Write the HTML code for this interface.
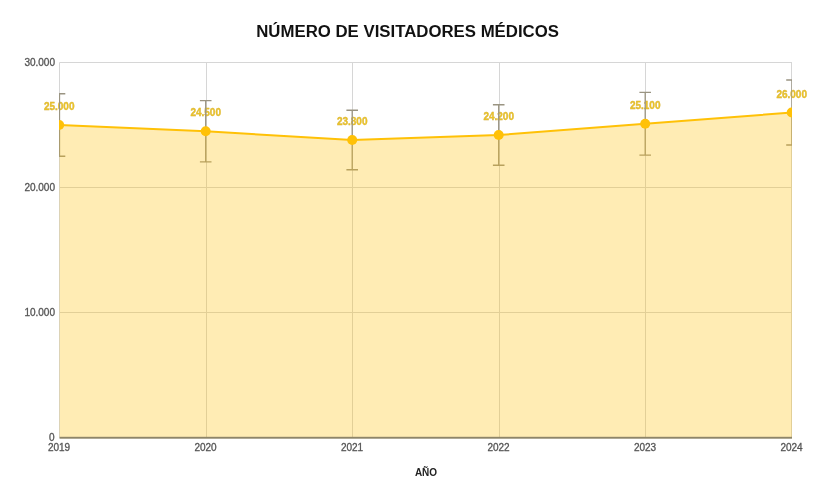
<!DOCTYPE html>
<html><head><meta charset="utf-8"><style>html,body{margin:0;padding:0;background:#fff;width:814px;height:500px;overflow:hidden}svg{display:block;will-change:transform}</style></head>
<body><svg width="814" height="500" viewBox="0 0 814 500" font-family="'Liberation Sans', sans-serif">
<defs><clipPath id="c"><rect x="59" y="61" width="733" height="379"/></clipPath></defs>
<rect width="814" height="500" fill="#fff"/>
<g clip-path="url(#c)">
<line x1="59.5" y1="62.5" x2="792" y2="62.5" stroke="#D6D6D6" stroke-width="1"/>
<line x1="59.5" y1="187.5" x2="792" y2="187.5" stroke="#D6D6D6" stroke-width="1"/>
<line x1="59.5" y1="312.5" x2="792" y2="312.5" stroke="#D6D6D6" stroke-width="1"/>
<line x1="59.5" y1="62.5" x2="59.5" y2="437.5" stroke="#D6D6D6" stroke-width="1"/>
<line x1="206.5" y1="62.5" x2="206.5" y2="437.5" stroke="#D6D6D6" stroke-width="1"/>
<line x1="352.5" y1="62.5" x2="352.5" y2="437.5" stroke="#D6D6D6" stroke-width="1"/>
<line x1="499.5" y1="62.5" x2="499.5" y2="437.5" stroke="#D6D6D6" stroke-width="1"/>
<line x1="645.5" y1="62.5" x2="645.5" y2="437.5" stroke="#D6D6D6" stroke-width="1"/>
<line x1="791.5" y1="62.5" x2="791.5" y2="437.5" stroke="#D6D6D6" stroke-width="1"/>
</g>
<text x="59.2" y="110.0" text-anchor="middle" font-size="10" font-weight="bold" fill="#F0C822" stroke="#D4AE3A" stroke-width="0.35">25.000</text>
<text x="205.7" y="116.25" text-anchor="middle" font-size="10" font-weight="bold" fill="#F0C822" stroke="#D4AE3A" stroke-width="0.35">24.500</text>
<text x="352.2" y="125.0" text-anchor="middle" font-size="10" font-weight="bold" fill="#F0C822" stroke="#D4AE3A" stroke-width="0.35">23.800</text>
<text x="498.7" y="120.0" text-anchor="middle" font-size="10" font-weight="bold" fill="#F0C822" stroke="#D4AE3A" stroke-width="0.35">24.200</text>
<text x="645.2" y="108.75" text-anchor="middle" font-size="10" font-weight="bold" fill="#F0C822" stroke="#D4AE3A" stroke-width="0.35">25.100</text>
<text x="791.7" y="97.5" text-anchor="middle" font-size="10" font-weight="bold" fill="#F0C822" stroke="#D4AE3A" stroke-width="0.35">26.000</text>
<g clip-path="url(#c)">
<path d="M59.50 93.75V156.25M53.70 93.75H65.30M53.70 156.25H65.30" stroke="#9A9482" stroke-width="1.3" fill="none"/>
<path d="M205.70 100.62V161.88M199.90 100.62H211.50M199.90 161.88H211.50" stroke="#9A9482" stroke-width="1.3" fill="none"/>
<path d="M352.20 110.25V169.75M346.40 110.25H358.00M346.40 169.75H358.00" stroke="#9A9482" stroke-width="1.3" fill="none"/>
<path d="M498.70 104.75V165.25M492.90 104.75H504.50M492.90 165.25H504.50" stroke="#9A9482" stroke-width="1.3" fill="none"/>
<path d="M645.20 92.38V155.12M639.40 92.38H651.00M639.40 155.12H651.00" stroke="#9A9482" stroke-width="1.3" fill="none"/>
<path d="M792.00 80.00V145.00M786.20 80.00H797.80M786.20 145.00H797.80" stroke="#9A9482" stroke-width="1.3" fill="none"/>
<polygon points="59.5,437.5 59.50,125.00 205.70,131.25 352.20,140.00 498.70,135.00 645.20,123.75 792.00,112.50 792,437.5" fill="#FFC107" fill-opacity="0.3"/>
<polyline points="59.50,125.00 205.70,131.25 352.20,140.00 498.70,135.00 645.20,123.75 792.00,112.50" fill="none" stroke="#FFC107" stroke-width="2"/>
<rect x="59.5" y="436.8" width="732.5" height="1.9" fill="#8E8568"/>
<circle cx="59.20" cy="125.00" r="5" fill="#FFC107"/>
<circle cx="205.70" cy="131.25" r="5" fill="#FFC107"/>
<circle cx="352.20" cy="140.00" r="5" fill="#FFC107"/>
<circle cx="498.70" cy="135.00" r="5" fill="#FFC107"/>
<circle cx="645.20" cy="123.75" r="5" fill="#FFC107"/>
<circle cx="791.70" cy="112.50" r="5" fill="#FFC107"/>
</g>
<text x="55" y="65.70" text-anchor="end" font-size="10" fill="#555555" stroke="#555555" stroke-width="0.3">30.000</text>
<text x="55" y="190.70" text-anchor="end" font-size="10" fill="#555555" stroke="#555555" stroke-width="0.3">20.000</text>
<text x="55" y="315.70" text-anchor="end" font-size="10" fill="#555555" stroke="#555555" stroke-width="0.3">10.000</text>
<text x="54.5" y="440.70" text-anchor="end" font-size="10" fill="#555555" stroke="#555555" stroke-width="0.3">0</text>
<text x="59.00" y="451" text-anchor="middle" font-size="10" fill="#555555" stroke="#555555" stroke-width="0.3">2019</text>
<text x="205.50" y="451" text-anchor="middle" font-size="10" fill="#555555" stroke="#555555" stroke-width="0.3">2020</text>
<text x="352.00" y="451" text-anchor="middle" font-size="10" fill="#555555" stroke="#555555" stroke-width="0.3">2021</text>
<text x="498.50" y="451" text-anchor="middle" font-size="10" fill="#555555" stroke="#555555" stroke-width="0.3">2022</text>
<text x="645.00" y="451" text-anchor="middle" font-size="10" fill="#555555" stroke="#555555" stroke-width="0.3">2023</text>
<text x="791.50" y="451" text-anchor="middle" font-size="10" fill="#555555" stroke="#555555" stroke-width="0.3">2024</text>
<text x="426" y="476" text-anchor="middle" font-size="10" font-weight="bold" fill="#222">AÑO</text>
<text x="407.6" y="37" text-anchor="middle" font-size="16.8" font-weight="bold" fill="#111">NÚMERO DE VISITADORES MÉDICOS</text>
</svg></body></html>
